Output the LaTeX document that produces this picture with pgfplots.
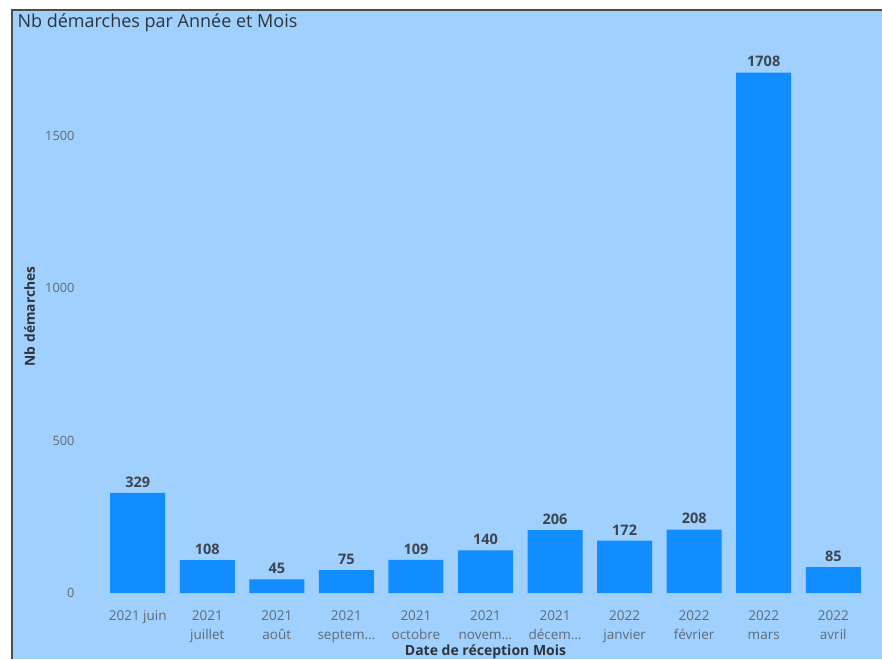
\documentclass[border=0pt]{standalone}
\usepackage{pgfplots}
\pgfplotsset{compat=1.18}
\usepackage{fontspec}
\setmainfont{Open Sans}
\definecolor{bg}{HTML}{A0D0FE}
\definecolor{barc}{HTML}{118DFF}
\definecolor{tickc}{HTML}{5F6B78}
\definecolor{dark}{HTML}{2E343C}
\definecolor{vals}{HTML}{3C4550}
\begin{document}
\begin{tikzpicture}[x=1pt,y=1pt]
\useasboundingbox (0,0) rectangle (882,659);
\fill[white] (0,0) rectangle (882,659);
\fill[bg] (12,0) rectangle (882,649);
\draw[gray!60!black, line width=1.2pt] (12,0) -- (12,649) -- (882,649);
\node[anchor=west, font=\fontsize{18}{20}\selectfont, text=dark] at (14,636) {Nb démarches par Année et Mois};
\begin{axis}[
  at={(96pt,66pt)}, anchor=south west,
  scale only axis, width=779pt, height=553pt,
  xmin=-0.6, xmax=10.6, ymin=0, ymax=1815,
  ybar, bar width=55pt, bar shift=0pt,
  axis line style={draw=none}, major tick length=0pt,
  /pgf/number format/assume math mode=true,
  /pgf/number format/1000 sep={},
  scaled y ticks=false,
  xtick=data,
  xticklabels={2021 juin,{2021\\juillet},{2021\\août},{2021\\septem\ldots},{2021\\octobre},{2021\\novem\ldots},{2021\\décem\ldots},{2022\\janvier},{2022\\février},{2022\\mars},{2022\\avril}},
  xticklabel style={align=center, font=\fontsize{13.5}{19}\selectfont, text=tickc, yshift=-14pt},
  ytick={0,500,1000,1500},
  yticklabel style={font=\fontsize{12.8}{14}\selectfont, text=tickc, xshift=-18pt},
  xlabel={Date de réception Mois},
  xlabel style={at={(axis description cs:0.5,-0.107)}, anchor=center, font=\fontsize{14}{16}\selectfont\bfseries, text=dark},
  ylabel={Nb démarches},
  ylabel style={at={(axis description cs:-0.085,0.5)}, anchor=center, font=\fontsize{13.8}{16}\selectfont\bfseries, text=dark},
  nodes near coords,
  nodes near coords style={font=\fontsize{14.5}{16}\selectfont\bfseries, text=vals, yshift=2pt},
]
\addplot[fill=barc, draw=none] coordinates {
(0,329) (1,108) (2,45) (3,75) (4,109) (5,140) (6,206) (7,172) (8,208) (9,1708) (10,85)
};
\end{axis}
\end{tikzpicture}
\end{document}
